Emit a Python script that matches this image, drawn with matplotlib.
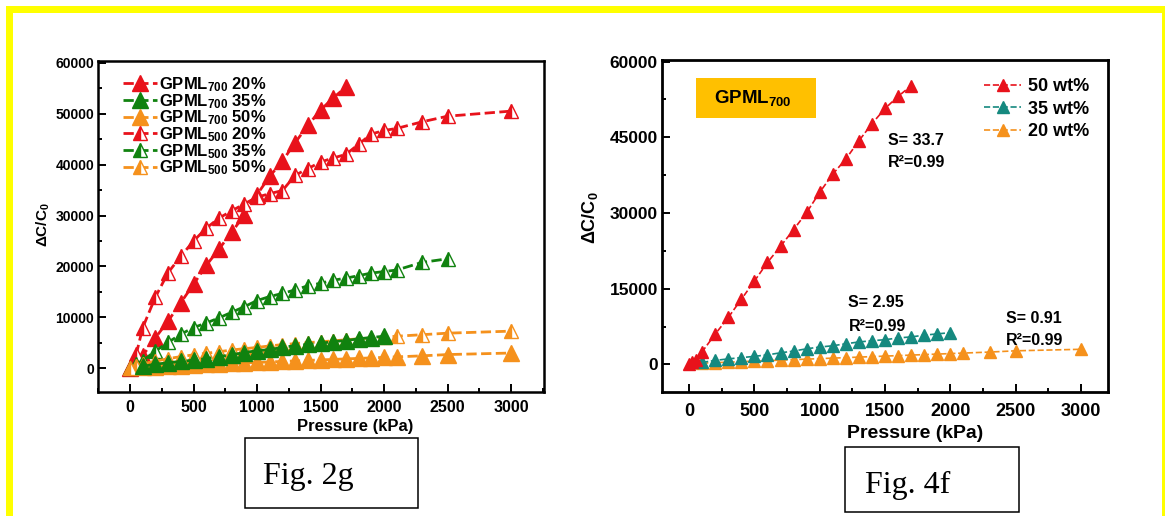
import matplotlib
matplotlib.use('Agg')
import matplotlib.pyplot as plt
from matplotlib.patches import Rectangle
from matplotlib.ticker import MultipleLocator

plt.rcParams['font.family'] = ['Liberation Sans', 'DejaVu Sans']
plt.rcParams['font.weight'] = 'bold'
plt.rcParams['mathtext.fontset'] = 'custom'
plt.rcParams['mathtext.rm'] = 'Liberation Sans:bold'
plt.rcParams['mathtext.bf'] = 'Liberation Sans:bold'
plt.rcParams['mathtext.it'] = 'Liberation Sans:bold'
plt.rcParams['mathtext.default'] = 'regular'

# ---------------- data ----------------
p_red700 = [0, 25, 50, 100, 200, 300, 400, 500, 600, 700, 800, 900, 1000,
            1100, 1200, 1300, 1400, 1500, 1600, 1700]
v_red700 = [0, 400, 900, 2500, 6000, 9300, 12900, 16500, 20200, 23400, 26700,
            30100, 34100, 37700, 40700, 44300, 47700, 50700, 53100, 55200]

p_green700 = [100, 200, 300, 400, 500, 600, 700, 800, 900, 1000, 1100, 1200,
              1300, 1400, 1500, 1600, 1700, 1800, 1900, 2000]
v_green700 = [400, 800, 1100, 1350, 1600, 1900, 2300, 2650, 3100, 3450, 3700,
              4100, 4450, 4700, 4900, 5250, 5450, 5800, 6050, 6300]

p_orange700 = [100, 200, 300, 400, 500, 600, 700, 800, 900, 1000, 1100, 1200,
               1300, 1400, 1500, 1600, 1700, 1800, 1900, 2000, 2100, 2300,
               2500, 3000]
v_orange700 = [250, 350, 450, 550, 650, 750, 850, 950, 1050, 1150, 1250, 1350,
               1450, 1550, 1650, 1750, 1850, 1950, 2050, 2150, 2250, 2450,
               2700, 3000]

p_red500 = [0, 50, 100, 200, 300, 400, 500, 600, 700, 800, 900, 1000, 1100,
            1200, 1300, 1400, 1500, 1600, 1700, 1800, 1900, 2000, 2100, 2300,
            2500, 3000]
v_red500 = [0, 2900, 8000, 14000, 18800, 22000, 25000, 27500, 29500, 30900,
            32300, 33600, 34300, 34900, 37900, 39200, 40500, 41300, 42000,
            44000, 46000, 46700, 47100, 48400, 49500, 50500]

p_green500 = [0, 50, 100, 200, 300, 400, 500, 600, 700, 800, 900, 1000, 1100,
              1200, 1300, 1400, 1500, 1600, 1700, 1800, 1900, 2000, 2100,
              2300, 2500]
v_green500 = [0, 900, 1500, 3400, 5100, 6700, 8000, 8900, 9900, 11000, 12100,
              13300, 14100, 14700, 15400, 16200, 16700, 17300, 17700, 18200,
              18700, 19000, 19300, 20800, 21500]

p_orange500 = [0, 50, 100, 200, 300, 400, 500, 600, 700, 800, 900, 1000, 1100,
               1200, 1300, 1400, 1500, 1600, 1700, 1800, 1900, 2000, 2100,
               2300, 2500, 3000]
v_orange500 = [0, 500, 900, 1400, 1900, 2300, 2650, 2950, 3250, 3600, 3850,
               4100, 4400, 4650, 4850, 5050, 5200, 5400, 5600, 5800, 5950,
               6100, 6300, 6600, 6900, 7300]

left_labels = [r'GPML$_{700}$ 20%', r'GPML$_{700}$ 35%', r'GPML$_{700}$ 50%',
               r'GPML$_{500}$ 20%', r'GPML$_{500}$ 35%', r'GPML$_{500}$ 50%']
right_labels = ['50 wt%', '35 wt%', '20 wt%']
fit_texts = [('S= 33.7', 'R²=0.99'), ('S= 2.95', 'R²=0.99'), ('S= 0.91', 'R²=0.99')]

RED = '#e8121b'
GREEN = '#10820f'
ORANGE = '#f5911c'
TEAL = '#15897f'
BOXC = '#ffc000'

W, H = 1165, 516
fig = plt.figure(figsize=(W / 100, H / 100), dpi=100)
fig.patch.set_facecolor('white')


def px_axes(x0, y0, x1, y1):
    return fig.add_axes([x0 / W, 1 - y1 / H, (x1 - x0) / W, (y1 - y0) / H])


def style_axes(ax, xsize, ysize, xpad, spw=1.8):
    for s in ax.spines.values():
        s.set_linewidth(spw)
    ax.tick_params(which='both', direction='in', width=1.4)
    ax.tick_params(which='major', length=6)
    ax.tick_params(which='minor', length=3)
    ax.tick_params(axis='x', labelsize=xsize, pad=xpad)
    ax.tick_params(axis='y', labelsize=ysize, pad=3)
    for lab in ax.get_xticklabels() + ax.get_yticklabels():
        lab.set_fontweight('bold')


# ---------------- left chart (Fig. 2g) ----------------
ax1 = px_axes(98.3, 61, 543.5, 392)
filled = dict(ls='--', lw=2.0, marker='^', ms=11)
half = dict(ls='--', lw=2.0, marker='^', ms=10, fillstyle='left',
            markerfacecoloralt='white', mew=1.0)
h1 = ax1.plot(p_red700, v_red700, color=RED, mfc=RED, mec=RED, **filled)[0]
h4 = ax1.plot(p_red500, v_red500, color=RED, mfc=RED, mec=RED, **half)[0]
h5 = ax1.plot(p_green500, v_green500, color=GREEN, mfc=GREEN, mec=GREEN, **half)[0]
h3 = ax1.plot(p_orange700, v_orange700, color=ORANGE, mfc=ORANGE, mec=ORANGE, **filled)[0]
h6 = ax1.plot(p_orange500, v_orange500, color=ORANGE, mfc=ORANGE, mec=ORANGE, **half)[0]
h2 = ax1.plot(p_green700, v_green700, color=GREEN, mfc=GREEN, mec=GREEN, **filled)[0]

ax1.set_xlim(-250, 3256)
ax1.set_ylim(-4650, 60340)
ax1.xaxis.set_major_locator(MultipleLocator(500))
ax1.xaxis.set_minor_locator(MultipleLocator(250))
ax1.yaxis.set_major_locator(MultipleLocator(10000))
ax1.yaxis.set_minor_locator(MultipleLocator(5000))
style_axes(ax1, 11.5, 10, 6)
ax1.set_xlabel('Pressure (kPa)', fontsize=12, fontweight='bold')
ax1.xaxis.set_label_coords(0.576, -0.082)
ax1.set_ylabel('ΔC/C$_0$', fontsize=11, fontweight='bold')
ax1.yaxis.set_label_coords(-0.104, 0.505)

leg1 = ax1.legend([h1, h2, h3, h4, h5, h6], left_labels, loc='upper left',
                  bbox_to_anchor=(0.056, 0.957), frameon=False, fontsize=12,
                  handlelength=2.0, handletextpad=0.15, labelspacing=-0.12,
                  borderpad=0, borderaxespad=0)
for t in leg1.get_texts():
    t.set_fontweight('bold')

# ---------------- right chart (Fig. 4f) ----------------
ax2 = px_axes(662, 60, 1108, 391.7)
rstyle = dict(ls='--', lw=1.2, marker='^', ms=8.5)
g1 = ax2.plot(p_orange700, v_orange700, color=ORANGE, mfc=ORANGE, mec=ORANGE, **rstyle)[0]
g2 = ax2.plot(p_green700, v_green700, color=TEAL, mfc=TEAL, mec=TEAL, **rstyle)[0]
g3 = ax2.plot(p_red700, v_red700, color=RED, mfc=RED, mec=RED, **rstyle)[0]

ax2.set_xlim(-207, 3206)
ax2.set_ylim(-5400, 60300)
ax2.xaxis.set_major_locator(MultipleLocator(500))
ax2.xaxis.set_minor_locator(MultipleLocator(250))
ax2.yaxis.set_major_locator(MultipleLocator(15000))
ax2.yaxis.set_minor_locator(MultipleLocator(7500))
style_axes(ax2, 13, 12.5, 8, spw=2.0)
ax2.set_xlabel('Pressure (kPa)', fontsize=14, fontweight='bold')
ax2.xaxis.set_label_coords(0.568, -0.10)
ax2.set_ylabel('ΔC/C$_0$', fontsize=13, fontweight='bold')
ax2.yaxis.set_label_coords(-0.139, 0.524)

leg2 = ax2.legend([g3, g2, g1], right_labels, loc='upper left',
                  bbox_to_anchor=(0.723, 0.945), frameon=False, fontsize=13,
                  handlelength=2.0, handletextpad=0.4, labelspacing=0.3,
                  borderpad=0, borderaxespad=0)
for t in leg2.get_texts():
    t.set_fontweight('bold')

ax2.add_patch(Rectangle((0.076, 0.824), 0.269, 0.121, transform=ax2.transAxes,
                        facecolor=BOXC, edgecolor='none', zorder=1))
ax2.text(0.117, 0.884, r'GPML$_{700}$', transform=ax2.transAxes, fontsize=13.5,
         fontweight='bold', va='center', ha='left', zorder=2)

fit_pos = [(0.507, 0.756, 0.692), (0.418, 0.269, 0.198), (0.771, 0.220, 0.153)]
for (s_txt, r_txt), (fx, fy1, fy2) in zip(fit_texts, fit_pos):
    ax2.text(fx, fy1, s_txt, transform=ax2.transAxes, fontsize=11.5,
             fontweight='bold', va='center', ha='left')
    ax2.text(fx, fy2, r_txt, transform=ax2.transAxes, fontsize=11.5,
             fontweight='bold', va='center', ha='left')

# ---------------- figure caption boxes ----------------
def fig_box(x0, y0, x1, y1, label, tx, tbase):
    fig.patches.append(Rectangle((x0 / W, 1 - y1 / H), (x1 - x0) / W, (y1 - y0) / H,
                                 transform=fig.transFigure, facecolor='none',
                                 edgecolor='black', linewidth=1.1, zorder=-1))
    fig.text(tx / W, 1 - tbase / H, label, fontsize=23, fontweight='normal',
             family=['Liberation Serif', 'DejaVu Serif'], va='baseline', ha='left')


fig_box(245, 438, 418, 508, 'Fig. 2g', 263, 484)
fig_box(845, 447, 1019, 512, 'Fig. 4f', 865, 493)

# ---------------- yellow frame ----------------
YEL = '#ffff00'
for (x0, y0, x1, y1) in [(6, 6, 1165, 13), (6, 6, 13, 516), (1162, 6, 1165, 516)]:
    fig.patches.append(Rectangle((x0 / W, 1 - y1 / H), (x1 - x0) / W, (y1 - y0) / H,
                                 transform=fig.transFigure, facecolor=YEL,
                                 edgecolor='none', zorder=-1))

fig.savefig('out.png', dpi=100)
